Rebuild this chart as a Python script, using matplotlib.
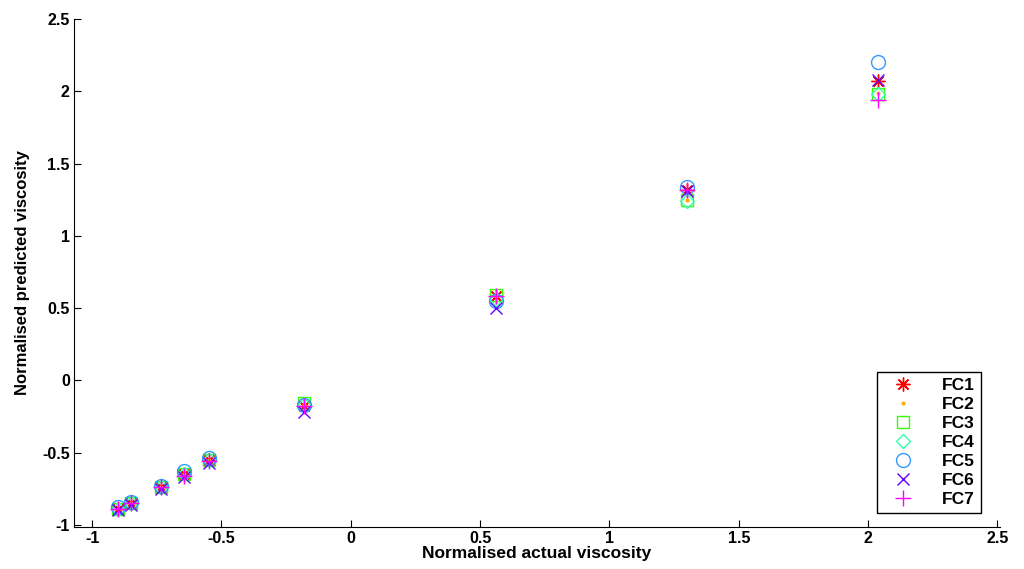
import matplotlib
matplotlib.use("Agg")
import matplotlib.pyplot as plt

plt.rcParams["font.family"] = ["Liberation Sans", "DejaVu Sans"]
plt.rcParams["font.weight"] = "bold"

# normalised actual viscosity (x) for each sample
actual = [-0.90, -0.85, -0.735, -0.645, -0.55, -0.18, 0.56, 1.30, 2.04]

# normalised predicted viscosity per fuzzy classifier
fc1 = [-0.89, -0.85, -0.74, -0.65, -0.55, -0.18, 0.58, 1.32, 2.07]
fc2 = [-0.89, -0.85, -0.74, -0.65, -0.55, -0.17, 0.58, 1.25, 1.99]
fc3 = [-0.89, -0.85, -0.74, -0.65, -0.55, -0.16, 0.59, 1.25, 1.98]
fc4 = [-0.89, -0.85, -0.74, -0.65, -0.55, -0.17, 0.56, 1.24, 1.98]
fc5 = [-0.88, -0.84, -0.73, -0.63, -0.54, -0.17, 0.55, 1.34, 2.20]
fc6 = [-0.90, -0.86, -0.75, -0.67, -0.57, -0.22, 0.50, 1.31, 2.08]
fc7 = [-0.89, -0.85, -0.74, -0.66, -0.56, -0.18, 0.58, 1.32, 1.94]

labels = ["FC1", "FC2", "FC3", "FC4", "FC5", "FC6", "FC7"]
series = [fc1, fc2, fc3, fc4, fc5, fc6, fc7]
colors = ["#ff0000", "#ffb000", "#33ff00", "#33ffaa", "#3399ff", "#6600ff", "#ff00ff"]
markers = [(8, 2, 0), ".", "s", "D", "o", "x", "+"]
sizes = [10, 4, 9, 7, 10, 8, 11]

fig = plt.figure(figsize=(10.24, 5.69), dpi=100)
ax = fig.add_axes([0.0723, 0.0738, 0.9043, 0.8928])

for vals, lab, c, m, s in zip(series, labels, colors, markers, sizes):
    hollow = m in ("s", "D", "o")
    ax.plot(actual, vals, linestyle="none", marker=m, color=c, label=lab,
            markersize=s, markerfacecolor="none" if hollow else c,
            markeredgewidth=1.0)

ax.set_xlim(-1.07, 2.51)
ax.set_ylim(-1.015, 2.5)
ticks = [-1, -0.5, 0, 0.5, 1, 1.5, 2, 2.5]
tick_text = ["-1", "-0.5", "0", "0.5", "1", "1.5", "2", "2.5"]
ax.set_xticks(ticks)
ax.set_yticks(ticks)
ax.set_xticklabels(tick_text)
ax.set_yticklabels(tick_text)
ax.tick_params(direction="in", length=5, labelsize=11.5, pad=3)
ax.spines["top"].set_visible(False)
ax.spines["right"].set_visible(False)
ax.set_xlabel("Normalised actual viscosity", fontsize=12.5, fontweight="bold", labelpad=0)
ax.set_ylabel("Normalised predicted viscosity", fontsize=12, fontweight="bold", labelpad=9)

leg = ax.legend(loc="lower right", bbox_to_anchor=(0.979, 0.028), borderaxespad=0,
                fontsize=12.5, fancybox=False, framealpha=1, edgecolor="black",
                handlelength=2.4, handletextpad=1.0, labelspacing=0.22,
                borderpad=0.35)
leg.get_frame().set_linewidth(1.0)

fig.savefig("out.png", dpi=100)
